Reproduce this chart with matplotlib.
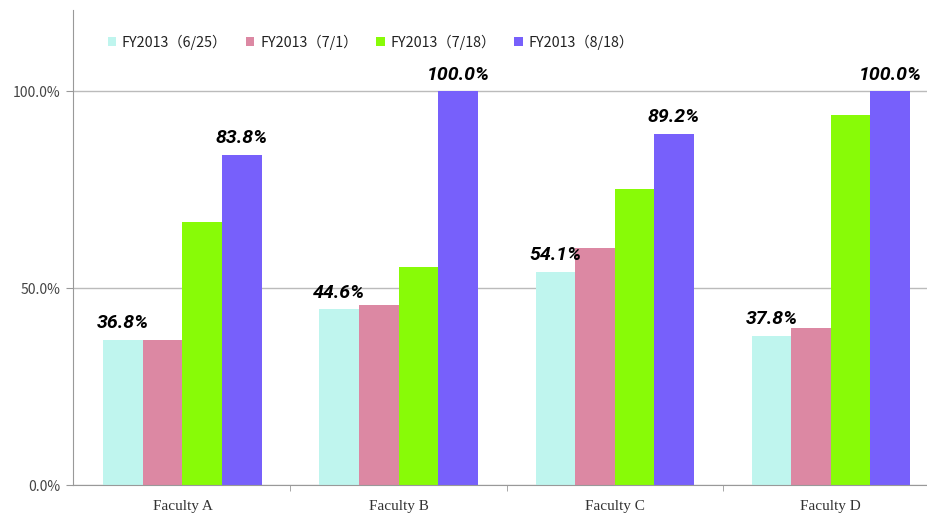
import matplotlib
matplotlib.use("Agg")
import matplotlib.pyplot as plt
import numpy as np

plt.rcParams["font.family"] = ["Noto Sans CJK JP", "DejaVu Sans"]

faculties = ["Faculty A", "Faculty B", "Faculty C", "Faculty D"]
series = ["FY2013（6/25）", "FY2013（7/1）", "FY2013（7/18）", "FY2013（8/18）"]
colors = ["#bff5ee", "#dc88a3", "#88fb07", "#7760fb"]

jun25 = [36.8, 44.6, 54.1, 37.8]
jul01 = [36.8, 45.7, 60.2, 39.8]
jul18 = [66.8, 55.3, 75.1, 93.9]
aug18 = [83.8, 100.0, 89.2, 100.0]
values = [jun25, jul01, jul18, aug18]

fig = plt.figure(figsize=(9.28, 5.16), dpi=100)
ax = fig.add_axes([0.079, 0.06, 0.921, 0.92])

x = np.arange(len(faculties))
w = 0.183
offsets = (np.arange(len(series)) - 1.5) * w
for i, (name, vals, col) in enumerate(zip(series, values, colors)):
    ax.bar(x + offsets[i], vals, width=w, color=col, label=name, zorder=2)

# value labels on first and last series
for j in range(len(faculties)):
    for vals, k in ((jun25, 0), (aug18, 3)):
        ax.text(x[j] + offsets[k], vals[j] + 2.0, f"{vals[j]:.1f}%",
                ha="center", va="bottom", fontsize=14, fontweight="bold",
                fontstyle="italic", family="Roboto", color="black")

ax.set_xlim(-0.505, 3.45)
ax.set_ylim(0, 120.6)
ax.set_yticks([0, 50, 100])
ax.set_yticklabels(["0.0%", "50.0%", "100.0%"], fontsize=10, color="#444444")
ax.yaxis.grid(True, color="#bbbbbb", linewidth=1, zorder=0)
ax.set_xticks(x)
ax.set_xticklabels(faculties, family="Liberation Serif", fontsize=11, color="#333333")
ax.set_xticks([0.5, 1.5, 2.5], minor=True)
ax.tick_params(axis="x", which="major", length=0, pad=11)
ax.tick_params(axis="x", which="minor", length=4, color="#999999")
ax.tick_params(axis="y", length=5, color="#999999", pad=4)

for s in ["top", "right"]:
    ax.spines[s].set_visible(False)
for s in ["left", "bottom"]:
    ax.spines[s].set_color("#999999")

ax.legend(loc="center left", bbox_to_anchor=(0.025, 0.933), ncol=4, frameon=False,
          fontsize=10.3, handlelength=0.6, handleheight=0.6, handletextpad=0.4,
          columnspacing=1.3, labelcolor="#222222")

fig.savefig("out.png", dpi=100)
